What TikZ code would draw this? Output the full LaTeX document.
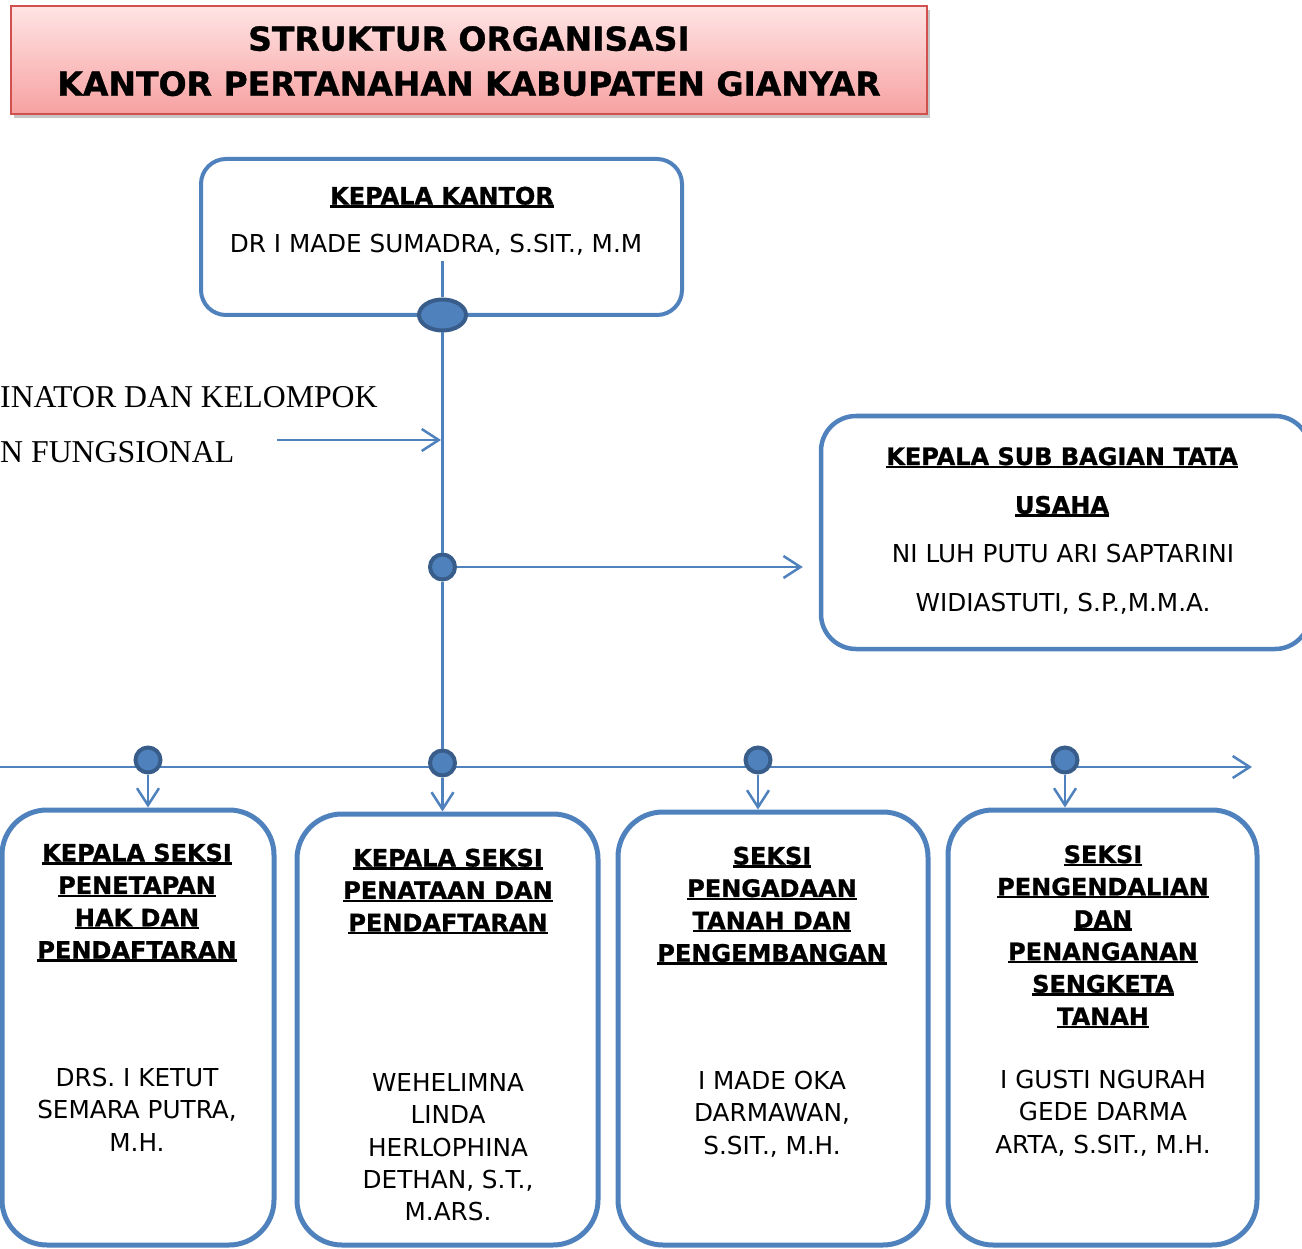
\documentclass[tikz,border=0pt]{standalone}
\usepackage{fontspec}
\setmainfont[BoldFeatures={FakeBold=1}]{DejaVu Sans}
\newfontfamily\timesfont{Liberation Serif}
\usetikzlibrary{arrows.meta,positioning,shapes.geometric,calc,shadows}
\definecolor{boxblue}{HTML}{4F81BD}
\definecolor{dotblue}{HTML}{385D8A}
\definecolor{titletop}{HTML}{FFE4E4}
\definecolor{titlebot}{HTML}{F7A1A1}
\definecolor{titleline}{HTML}{D0504D}
\newcommand{\ulin}[1]{\setbox0=\hbox{#1}\rlap{\rule[-3pt]{\wd0}{2.4pt}}\box0}

\begin{document}
\begin{tikzpicture}
[x=1pt, y=-1pt, >={Straight Barb[length=17pt,width=22pt]},
box/.style = {draw=boxblue, line width=4.5pt, rounded corners=30pt, inner sep=0pt},
lbl/.style = {anchor=north, align=center, inner sep=0pt, font=\fontsize{24.7}{32.4}\selectfont},
hd/.style = {lbl, font=\bfseries\fontsize{24}{32.4}\selectfont},
dot/.style = {draw=dotblue, fill=boxblue, circle, line width=4pt, minimum size=25pt, inner sep=0pt},
link/.style = {draw=boxblue, line width=2.5pt}]
\useasboundingbox (0,0) rectangle (1302,1249);

% judul
\node[draw=titleline, line width=2pt, top color=titletop, bottom color=titlebot,
  minimum width=916pt, minimum height=108pt,
  drop shadow={shadow xshift=3pt, shadow yshift=-4pt, opacity=.45}] (ttl) at (469,60) {};
\node[anchor=north, align=center, inner sep=0pt, font=\bfseries\fontsize{33}{45}\selectfont]
  (ttltxt) at (469,26) {STRUKTUR ORGANISASI\\KANTOR PERTANAHAN KABUPATEN GIANYAR};

% kepala kantor
\node[box, rounded corners=25pt, line width=4pt, minimum width=481pt, minimum height=156pt] (kk) at (441.5,237) {};
\node[hd] (kkh) at (442,186.5) {\ulin{KEPALA KANTOR}};
\node[lbl] (kkn) at (436,234) {DR I MADE SUMADRA, S.SIT., M.M};
\coordinate (kkin) at (442.5,261);
\node[draw=dotblue, fill=boxblue, ellipse, line width=4pt, minimum width=47pt, minimum height=31pt, inner sep=0pt] (ell) at (442.5,315) {};

% kelompok jabatan fungsional
\node[anchor=north west, align=left, inner sep=0pt, font=\timesfont\fontsize{31.8}{55}\selectfont]
  (fung) at (0,386) {INATOR DAN KELOMPOK\\N FUNGSIONAL};
\coordinate (fa) at (277,440);
\coordinate (fb) at (441,440);

% sub bagian tata usaha
\node[box, rounded corners=35pt, minimum width=489pt, minimum height=233pt] (tu) at (1065.5,532.5) {};
\node[hd, font=\bfseries\fontsize{24}{48.7}\selectfont] (tuh) at (1062,447) {\ulin{KEPALA SUB BAGIAN TATA}\\\ulin{USAHA}};
\node[lbl, font=\fontsize{24.7}{48.7}\selectfont] (tun) at (1063,544) {NI LUH PUTU ARI SAPTARINI\\WIDIASTUTI, S.P.,M.M.A.};

% garis mendatar
\coordinate (hl) at (0,767);
\coordinate (hr) at (1252,767);
\draw[link,->] (hl) -- (hr);

\node[dot] (c1) at (442.5,567) {};
\node[dot] (d1) at (148,760) {};
\node[dot] (d2) at (442.5,763) {};
\node[dot] (d3) at (758,760) {};
\node[dot] (d4) at (1065,760) {};

% seksi
\node[box, rounded corners=45pt, line width=5pt, minimum width=272pt, minimum height=435pt] (s1) at (138,1027.5) {};
\node[box, rounded corners=45pt, line width=5pt, minimum width=301pt, minimum height=431pt] (s2) at (447.5,1029.5) {};
\node[box, rounded corners=45pt, line width=5pt, minimum width=310pt, minimum height=433pt] (s3) at (773,1028.5) {};
\node[box, rounded corners=45pt, line width=5pt, minimum width=309pt, minimum height=435pt] (s4) at (1102.5,1027.5) {};

\node[hd] (s1h) at (137,843.5) {\ulin{KEPALA SEKSI}\\\ulin{PENETAPAN}\\\ulin{HAK DAN}\\\ulin{PENDAFTARAN}};
\node[lbl] (s1n) at (137,1068) {DRS. I KETUT\\SEMARA PUTRA,\\M.H.};
\node[hd] (s2h) at (448,848.5) {\ulin{KEPALA SEKSI}\\\ulin{PENATAAN DAN}\\\ulin{PENDAFTARAN}};
\node[lbl] (s2n) at (448,1073) {WEHELIMNA\\LINDA\\HERLOPHINA\\DETHAN, S.T.,\\M.ARS.};
\node[hd] (s3h) at (772,846.5) {\ulin{SEKSI}\\\ulin{PENGADAAN}\\\ulin{TANAH DAN}\\\ulin{PENGEMBANGAN}};
\node[lbl] (s3n) at (772,1071) {I MADE OKA\\DARMAWAN,\\S.SIT., M.H.};
\node[hd] (s4h) at (1103,845) {\ulin{SEKSI}\\\ulin{PENGENDALIAN}\\\ulin{DAN}\\\ulin{PENANGANAN}\\\ulin{SENGKETA}\\\ulin{TANAH}};
\node[lbl] (s4n) at (1103,1070) {I GUSTI NGURAH\\GEDE DARMA\\ARTA, S.SIT., M.H.};

% penghubung
\draw[link] (kkin) -- (ell);
\draw[link] (ell) -- (c1);
\draw[link] (c1) -- (d2);
\draw[link,->] (fa) -- (fb);
\draw[link,->,shorten >=16pt] (c1) -- (c1 -| tu.west);
\path[link,->]
(d1) edge (d1 |- s1.north)
(d2) edge (d2 |- s2.north)
(d3) edge (d3 |- s3.north)
(d4) edge (d4 |- s4.north);

\end{tikzpicture}
\end{document}
